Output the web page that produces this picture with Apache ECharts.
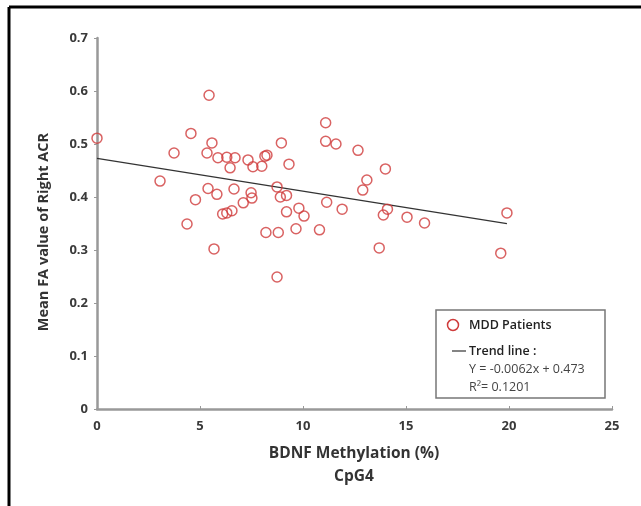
<!DOCTYPE html>
<html>
<head>
<meta charset="utf-8">
<script src="https://cdn.jsdelivr.net/npm/echarts@6/dist/echarts.min.js"></script>
<style>
  html, body { margin: 0; padding: 0; background: #fff; }
  #chart { width: 641px; height: 506px; }
</style>
</head>
<body>
<div id="chart"></div>
<script>
  // BDNF 甲基化 (%) 与 FA 值
  var methylation = [0, 3.06, 3.74, 4.37, 4.56, 4.78, 5.34, 5.44, 5.39, 5.58,
    5.68, 5.82, 5.87, 6.1, 6.3, 6.3, 6.46, 6.55, 6.65, 6.7,
    7.1, 7.33, 7.48, 7.52, 7.57, 8.0, 8.15, 8.25, 8.2, 8.74,
    8.74, 8.8, 8.95, 8.9, 9.2, 9.2, 9.32, 9.66, 9.8, 10.05,
    10.8, 11.1, 11.1, 11.15, 11.6, 11.9, 12.67, 12.9, 13.1, 13.7,
    13.9, 14.1, 14.0, 15.05, 15.9, 19.6, 19.9];
  var faValue = [0.511, 0.43, 0.483, 0.349, 0.52, 0.395, 0.483, 0.592, 0.416, 0.502,
    0.302, 0.405, 0.474, 0.368, 0.475, 0.37, 0.455, 0.374, 0.415, 0.474,
    0.389, 0.47, 0.408, 0.398, 0.457, 0.458, 0.477, 0.479, 0.333, 0.419,
    0.249, 0.333, 0.502, 0.40, 0.403, 0.372, 0.462, 0.34, 0.379, 0.364,
    0.338, 0.54, 0.505, 0.39, 0.50, 0.377, 0.488, 0.413, 0.432, 0.304,
    0.366, 0.377, 0.453, 0.362, 0.351, 0.294, 0.37];

  // 趋势线
  var slope = -0.0062;
  var intercept = 0.473;
  var trendRange = [0, 19.9];

  var xTicks = [0, 5, 10, 15, 20, 25];
  var yTicks = [0, 0.1, 0.2, 0.3, 0.4, 0.5, 0.6, 0.7];

  var points = methylation.map(function (x, i) { return [x, faValue[i]]; });
  var trend = trendRange.map(function (x) { return [x, intercept + slope * x]; });

  var myChart = echarts.init(document.getElementById('chart'));
  var font = '"Open Sans", "Liberation Sans", sans-serif';
  var axisCol = '#999';
  var labelCol = '#3a3a3a';

  var option = {
    backgroundColor: '#fff',
    animation: false,
    grid: { left: 97, right: 29, top: 38, bottom: 97 },
    xAxis: {
      type: 'value',
      min: xTicks[0],
      max: xTicks[xTicks.length - 1],
      interval: 5,
      splitLine: { show: false },
      axisLine: { lineStyle: { color: axisCol, width: 2.5 } },
      axisTick: { inside: true, length: 3, lineStyle: { color: axisCol } },
      axisLabel: { color: labelCol, fontFamily: font, fontWeight: 'bold', fontSize: 13, margin: 11 }
    },
    yAxis: {
      type: 'value',
      min: yTicks[0],
      max: yTicks[yTicks.length - 1],
      interval: 0.1,
      splitLine: { show: false },
      axisLine: { show: true, lineStyle: { color: axisCol, width: 2.5 } },
      axisTick: { show: true, length: 3, lineStyle: { color: axisCol } },
      axisLabel: {
        color: labelCol, fontFamily: font, fontWeight: 'bold', fontSize: 13, margin: 9,
        formatter: function (v) { return v === 0 ? '0' : v.toFixed(1); }
      }
    },
    series: [
      {
        name: 'MDD Patients',
        type: 'scatter',
        data: points,
        symbol: 'circle',
        symbolSize: 10,
        itemStyle: { color: 'rgba(255,255,255,0)', borderColor: '#cf3b3b', borderWidth: 1.5 },
        z: 3
      },
      {
        name: 'Trend line',
        type: 'line',
        data: trend,
        symbol: 'none',
        lineStyle: { color: '#333', width: 1.2 },
        z: 2
      }
    ],
    graphic: [
      // 外框
      { type: 'line', shape: { x1: 9, y1: 7, x2: 641, y2: 7 }, style: { stroke: '#000', lineWidth: 3 } },
      { type: 'line', shape: { x1: 9, y1: 7, x2: 9, y2: 506 }, style: { stroke: '#000', lineWidth: 3 } },
      // 坐标轴标题
      {
        type: 'text', x: 44, y: 232, rotation: Math.PI / 2,
        style: { text: 'Mean FA value of Right ACR', fill: '#333', font: 'bold 14.5px ' + font, align: 'center', verticalAlign: 'middle' }
      },
      {
        type: 'text', x: 354, y: 454,
        style: { text: 'BDNF Methylation (%)', fill: '#333', font: 'bold 15.5px ' + font, align: 'center', verticalAlign: 'middle' }
      },
      {
        type: 'text', x: 354, y: 477,
        style: { text: 'CpG4', fill: '#333', font: 'bold 15.5px ' + font, align: 'center', verticalAlign: 'middle' }
      },
      // 图例
      { type: 'rect', shape: { x: 436, y: 310, width: 169, height: 88 }, style: { fill: '#fff', stroke: '#777', lineWidth: 1.5 }, z: 10 },
      { type: 'circle', shape: { cx: 453, cy: 325, r: 5.5 }, style: { fill: '#fff', stroke: '#cf3b3b', lineWidth: 1.5 }, z: 11 },
      { type: 'text', x: 469, y: 325, z: 11, style: { text: 'MDD Patients', fill: '#222', font: '600 12.5px ' + font, verticalAlign: 'middle' } },
      { type: 'line', shape: { x1: 452, y1: 351, x2: 466, y2: 351 }, style: { stroke: '#333', lineWidth: 1.2 }, z: 11 },
      { type: 'text', x: 469, y: 351, z: 11, style: { text: 'Trend line :', fill: '#222', font: '600 12.5px ' + font, verticalAlign: 'middle' } },
      { type: 'text', x: 469, y: 369, z: 11, style: { text: 'Y = -0.0062x + 0.473', fill: '#444', font: '12.5px ' + font, verticalAlign: 'middle' } },
      { type: 'text', x: 469, y: 387, z: 11, style: { text: 'R²= 0.1201', fill: '#444', font: '12.5px ' + font, verticalAlign: 'middle' } }
    ]
  };
  myChart.setOption(option);
</script>
</body>
</html>
